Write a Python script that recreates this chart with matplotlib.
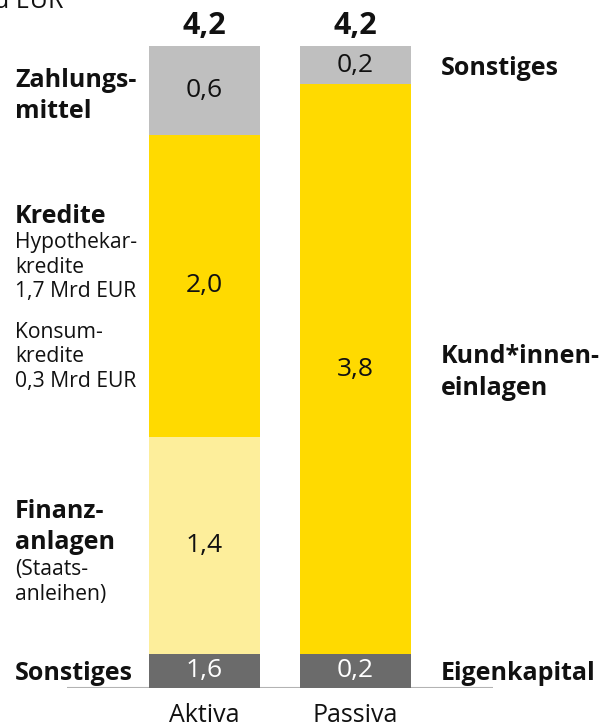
import matplotlib
matplotlib.use("Agg")
import matplotlib.pyplot as plt

# ---- data (bottom to top) ----
columns = ["Aktiva", "Passiva"]
totals = ["4,2", "4,2"]

aktiva_values = [0.22, 1.42, 1.98, 0.58]
aktiva_labels = ["1,6", "1,4", "2,0", "0,6"]
aktiva_colors = ["#6b6b6b", "#fdee9b", "#ffda00", "#bfbfbf"]
aktiva_text_colors = ["white", "#111111", "#111111", "#111111"]

passiva_values = [0.22, 3.73, 0.25]
passiva_labels = ["0,2", "3,8", "0,2"]
passiva_colors = ["#6b6b6b", "#ffda00", "#bfbfbf"]
passiva_text_colors = ["white", "#111111", "#111111"]

FONT = ["Open Sans", "DejaVu Sans"]
plt.rcParams["font.family"] = FONT

W, H = 600, 727
fig = plt.figure(figsize=(W / 100, H / 100), dpi=100)

def fx(px):
    return px / W

def fy(py):
    return 1 - py / H

ax_left, ax_right = 67, 493
ax_top, ax_bottom = 46, 687.7
ax = fig.add_axes([fx(ax_left), fy(ax_bottom), (ax_right - ax_left) / W, (ax_bottom - ax_top) / H])

spacing = 151.0
c0 = 204.5
ax.set_xlim(-(c0 - ax_left) / spacing, 1 + (ax_right - (c0 + spacing)) / spacing)
ax.set_ylim(0, 4.2)
width = 111 / spacing

stacks = [
    (aktiva_values, aktiva_labels, aktiva_colors, aktiva_text_colors),
    (passiva_values, passiva_labels, passiva_colors, passiva_text_colors),
]
for i, (vals, labs, cols, tcols) in enumerate(stacks):
    bottom = 0.0
    for v, lab, col, tc in zip(vals, labs, cols, tcols):
        ax.bar(i, v, bottom=bottom, width=width, color=col, edgecolor="none", zorder=2)
        ax.text(i, bottom + v / 2, lab, ha="center", va="center", fontsize=19,
                color=tc, zorder=3)
        bottom += v
    # total above column
    fig.text(fx(c0 + i * spacing), fy(34), totals[i], ha="center", va="baseline",
             fontsize=22, fontweight="bold", color="#111111")

ax.axhline(0, color="#b3b3b3", lw=1.5, zorder=1)
for s in ax.spines.values():
    s.set_visible(False)
ax.set_xticks([])
ax.set_yticks([])
ax.patch.set_alpha(0)

# column labels
for i, name in enumerate(columns):
    fig.text(fx(c0 + i * spacing), fy(722), name, ha="center", va="baseline",
             fontsize=18, color="#111111")

# unit (clipped at top)
fig.text(fx(63), fy(8), "in Mrd EUR", ha="right", va="baseline", fontsize=18, color="#111111")

def label(x, y, s, bold=True, size=18, ha="left"):
    fig.text(fx(x), fy(y), s, ha=ha, va="baseline", fontsize=size,
             fontweight="bold" if bold else "normal", color="#111111")

SMALL = 15.2
# left labels
label(15, 87, "Zahlungs-")
label(15, 118, "mittel")
label(15, 223, "Kredite")
label(15, 248, "Hypothekar-", bold=False, size=SMALL)
label(15, 273, "kredite", bold=False, size=SMALL)
label(15, 297, "1,7 Mrd EUR", bold=False, size=SMALL)
label(15, 338, "Konsum-", bold=False, size=SMALL)
label(15, 362, "kredite", bold=False, size=SMALL)
label(15, 387, "0,3 Mrd EUR", bold=False, size=SMALL)
label(15, 518, "Finanz-")
label(15, 549, "anlagen")
label(15, 575, "(Staats-", bold=False, size=SMALL)
label(15, 600, "anleihen)", bold=False, size=SMALL)
label(15, 680, "Sonstiges")

# right labels
label(441, 75, "Sonstiges")
label(441, 363, "Kund*innen-")
label(441, 395, "einlagen")
label(441, 680, "Eigenkapital")

fig.savefig("out.png", dpi=100)
